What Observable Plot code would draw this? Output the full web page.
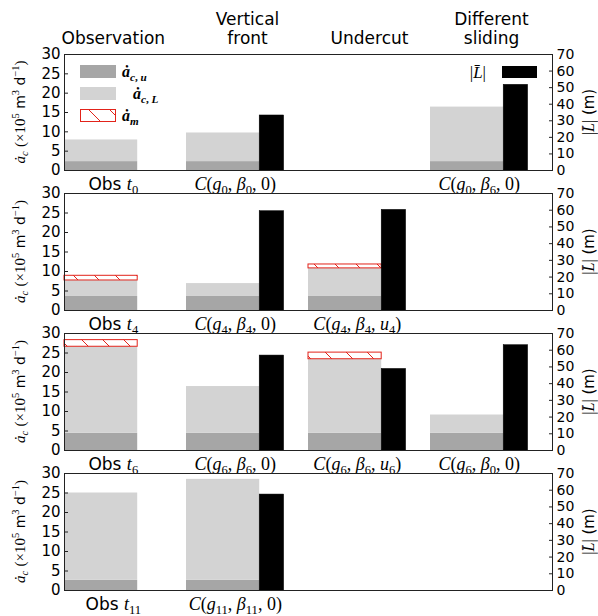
<!DOCTYPE html>
<html><head><meta charset="utf-8">
<script src="https://cdn.jsdelivr.net/npm/d3@7"></script>
<script src="https://cdn.jsdelivr.net/npm/@observablehq/plot@0.6"></script>
<style>
body{margin:0;background:#fff}
#chart{position:relative;width:598px;height:616px;overflow:hidden;background:#fff}
#chart svg{position:absolute;left:0;overflow:visible;background:transparent}
text,tspan{white-space:pre}
</style></head><body>
<svg width="0" height="0" style="position:absolute">
  <defs>
    <pattern id="hatch" patternUnits="userSpaceOnUse" width="21" height="21">
      <rect width="21" height="21" fill="white"/>
      <path d="M0,0L21,21M-21,0L0,21M21,0L42,21M0,-21L21,0M0,21L21,42" stroke="#e2231a" stroke-width="1"/>
    </pattern>
  </defs>
</svg>
<div id="chart"></div>
<script>
// ---------------- data ----------------
const categories = ["Observation", "Vertical front", "Undercut", "Different sliding"];
const headerText = ["Observation", "Vertical\nfront", "Undercut", "Different\nsliding"];
const headerX = [0.4, 1.5, 2.5, 3.5];
const panelTimes = ["t0", "t4", "t6", "t11"];
// a_c,u (dark gray, x10^5 m^3/d)
const acU = [
  [2.3, 2.3, null, 2.3],
  [3.6, 3.6, 3.6, null],
  [4.4, 4.4, 4.4, 4.4],
  [2.6, 2.6, null, null]
];
// a_c,L (light gray, stacked on a_c,u)
const acL = [
  [5.6, 7.4, null, 14.1],
  [4.1, 3.3, 7.2, null],
  [22.2, 12.0, 19.0, 4.7],
  [22.4, 25.9, null, null]
];
// a_m (red hatched, stacked on top)
const am = [
  [null, null, null, null],
  [1.2, null, 1.0, null],
  [1.7, null, 1.7, null],
  [null, null, null, null]
];
// |L| mean (black bars, m, right axis)
const Lmean = [
  [null, 33.2, null, 51.7],
  [null, 59.4, 60.2, null],
  [null, 56.8, 48.8, 63.0],
  [null, 57.4, null, null]
];
const barLabels = [
  ["Obs $t_0$", "$C(g_0, β_0, 0)$", null, "$C(g_0, β_6, 0)$"],
  ["Obs $t_4$", "$C(g_4, β_4, 0)$", "$C(g_4, β_4, u_4)$", null],
  ["Obs $t_6$", "$C(g_6, β_6, 0)$", "$C(g_6, β_6, u_6)$", "$C(g_6, β_0, 0)$"],
  ["Obs $t_{11}$", "$C(g_{11}, β_{11}, 0)$", null, null]
];
const acTicks = [0, 5, 10, 15, 20, 25, 30];
const LTicks = [0, 10, 20, 30, 40, 50, 60, 70];
const AC_MAX = 30, L_MAX = 70;
const leftTitle = "$ȧ_c$ $(×10^5$ m$^3$ d$^{−1})$";
const rightTitle = "$|L̄|$ (m)";
const legendLabels = ["$ȧ_{c, u}$", "$ȧ_{c, L}$", "$ȧ_m$", "$|L̄|$"];

// ---------------- style ----------------
const DARK = "#a6a6a6", LIGHT = "#d3d3d3", RED = "#e2231a";
const GRAY_W = 0.6, BLACK_W = 0.2;
const SANS = "DejaVu Sans", SERIF = "'Liberation Serif', 'DejaVu Serif', serif";
const ns = "http://www.w3.org/2000/svg";
const layout = [{top: 54, h: 116}, {top: 193, h: 117}, {top: 333, h: 117}, {top: 473, h: 117}];

// ---------------- rich text helper ----------------
function parseRich(str) {
  const parts = [];
  str.split("$").forEach((seg, k) => {
    if (k % 2 === 0) { if (seg) parts.push({t: seg, f: "sans", s: 0}); return; }
    let i = 0;
    while (i < seg.length) {
      const c = seg[i];
      if (c === "_" || c === "^") {
        const s = c === "_" ? 1 : -1; i++;
        let grp;
        if (seg[i] === "{") { const j = seg.indexOf("}", i); grp = seg.slice(i + 1, j); i = j + 1; }
        else { grp = seg[i]; i++; }
        for (const ch of grp) parts.push({t: ch, f: /[A-Za-zβ]/.test(ch) ? "it" : "rm", s});
      } else {
        let t = c; i++;
        while (i < seg.length && /[\u0300-\u036f]/.test(seg[i])) { t += seg[i]; i++; }
        parts.push({t, f: /[A-Za-zβȧ]/.test(c) ? "it" : "rm", s: 0});
      }
    }
  });
  const out = [];
  for (const p of parts) {
    const last = out[out.length - 1];
    if (last && last.f === p.f && last.s === p.s) last.t += p.t; else out.push({...p});
  }
  return out;
}
function renderRich(el, str, size, weight) {
  el.textContent = "";
  let cur = 0;
  for (const p of parseRich(str)) {
    const ts = document.createElementNS(ns, "tspan");
    const base = p.f === "sans" ? size.sans : size.serif;
    const fs = p.s ? size.serif * 0.7 : base;
    ts.setAttribute("font-family", p.f === "sans" ? SANS : SERIF);
    if (p.f === "it") ts.setAttribute("font-style", "italic");
    if (weight) ts.setAttribute("font-weight", weight);
    ts.setAttribute("font-size", fs);
    const target = p.s === 1 ? size.serif * 0.22 : p.s === -1 ? -size.serif * 0.4 : 0;
    if (target !== cur) { ts.setAttribute("dy", target - cur); cur = target; }
    ts.textContent = p.t;
    el.appendChild(ts);
  }
}

// ---------------- panels ----------------
const chart = document.getElementById("chart");
panelTimes.forEach((pt, p) => {
  const rows = [];
  categories.forEach((c, j) => {
    if (acU[p][j] == null) return;
    rows.push({cat: c, j, u: acU[p][j], tot: acU[p][j] + acL[p][j], am: am[p][j], L: Lmean[p][j], label: barLabels[p][j]});
  });
  const mt = p === 0 ? 54 : 12, mb = 26;
  const {top, h} = layout[p];
  const marks = [
    Plot.rect(rows, {x1: d => d.j, x2: d => d.j + GRAY_W, y1: 0, y2: "u", fill: DARK}),
    Plot.rect(rows, {x1: d => d.j, x2: d => d.j + GRAY_W, y1: "u", y2: "tot", fill: LIGHT}),
    Plot.rect(rows.filter(d => d.am != null), {x1: d => d.j, x2: d => d.j + GRAY_W, y1: "tot", y2: d => d.tot + d.am, fill: "url(#hatch)", stroke: RED, strokeWidth: 1}),
    Plot.rect(rows.filter(d => d.L != null), {x1: d => d.j + GRAY_W, x2: d => d.j + GRAY_W + BLACK_W, y1: 0, y2: d => d.L * AC_MAX / L_MAX, fill: "black", stroke: "black", strokeWidth: 0.5}),
    Plot.frame({stroke: "#222", strokeWidth: 1}),
    Plot.axisY(acTicks, {anchor: "left", tickSize: -4, tickPadding: 8, label: null, stroke: "#222", fontSize: 15}),
    Plot.axisY(LTicks.map(v => v * AC_MAX / L_MAX), {anchor: "right", tickSize: -4, tickPadding: 8, label: null, stroke: "#222", fontSize: 14, tickFormat: d => String(Math.round(d * L_MAX / AC_MAX))}),
    Plot.text(rows, {x: d => d.j + (GRAY_W + BLACK_W) / 2, y: 0, text: "label", lineAnchor: "top", dy: 7, fontSize: 17})
  ];
  if (p === 0) {
    marks.push(Plot.text(categories.map((c, i) => ({c, t: headerText[i], x: headerX[i]})), {x: "x", y: AC_MAX, text: "t", lineAnchor: "bottom", lineHeight: 1.1, dy: -11, fontSize: 17}));
  }
  const svg = Plot.plot({
    width: 598, height: mt + h + mb,
    marginLeft: 64, marginRight: 46, marginTop: mt, marginBottom: mb,
    x: {domain: [0, 4], axis: null},
    y: {domain: [0, AC_MAX]},
    style: {fontFamily: SANS, fontSize: "16px", background: "transparent", overflow: "visible", color: "black"},
    marks
  });
  svg.style.position = "absolute";
  svg.style.top = (top - mt) + "px";
  svg.style.left = "0px";
  svg.querySelectorAll("text").forEach(t => {
    if (t.textContent.includes("$")) renderRich(t, t.textContent, {sans: 17, serif: 18});
  });
  chart.appendChild(svg);
});

// ---------------- overlay: legend and axis titles ----------------
const ov = d3.create("svg").attr("width", 598).attr("height", 616)
  .style("position", "absolute").style("left", "0px").style("top", "0px");
function addRich(str, x, y, size, opts = {}) {
  const g = opts.rotate ? ov.append("g").attr("transform", `translate(${x},${y}) rotate(${opts.rotate})`) : ov;
  const t = g.append("text").attr("text-anchor", opts.anchor || "start");
  if (!opts.rotate) t.attr("x", x).attr("y", y);
  renderRich(t.node(), str, size, opts.weight);
  return t;
}
ov.append("rect").attr("x", 80).attr("y", 65).attr("width", 36).attr("height", 13).attr("fill", DARK);
ov.append("rect").attr("x", 80).attr("y", 87).attr("width", 36).attr("height", 13).attr("fill", LIGHT);
ov.append("rect").attr("x", 80.5).attr("y", 109.5).attr("width", 35).attr("height", 12).attr("fill", "url(#hatch)").attr("stroke", RED).attr("stroke-width", 1);
ov.append("rect").attr("x", 502).attr("y", 66).attr("width", 35).attr("height", 12).attr("fill", "black");
addRich(legendLabels[0], 122, 77, {sans: 16, serif: 16}, {weight: "bold"});
addRich(legendLabels[1], 133, 99, {sans: 16, serif: 16}, {weight: "bold"});
addRich(legendLabels[2], 122, 121, {sans: 16, serif: 16}, {weight: "bold"});
addRich(legendLabels[3], 486, 78, {sans: 16, serif: 17}, {anchor: "end"});
layout.forEach(({top, h}) => {
  const cy = top + h / 2;
  addRich(leftTitle, 25, cy, {sans: 14, serif: 15}, {rotate: -90, anchor: "middle"});
  addRich(rightTitle, 594, cy, {sans: 15, serif: 16}, {rotate: -90, anchor: "middle"});
});
chart.appendChild(ov.node());
</script>
</body></html>
